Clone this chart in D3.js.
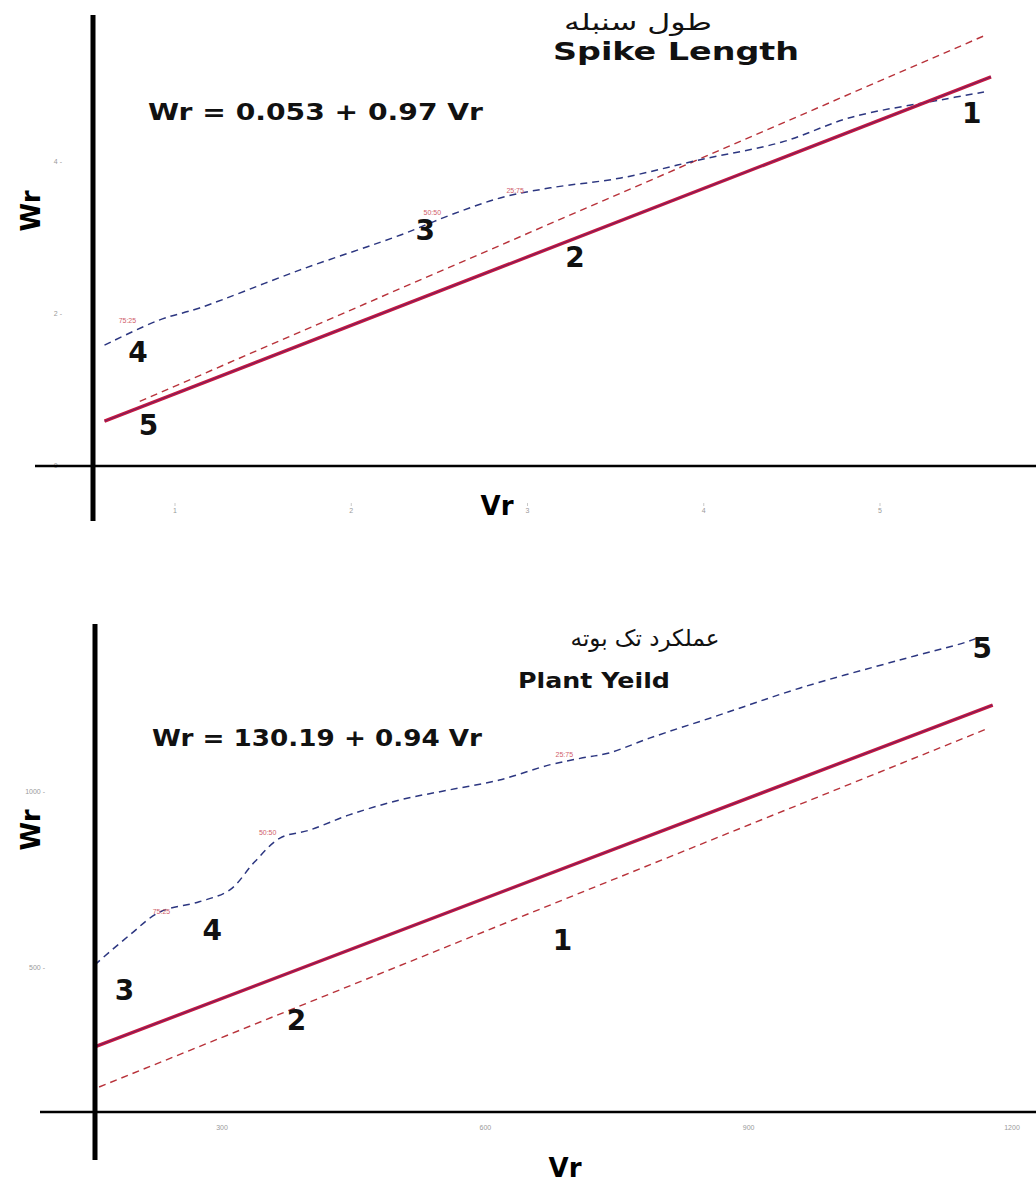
<!DOCTYPE html>
<html>
<head>
<meta charset="utf-8">
<script src="https://cdn.jsdelivr.net/npm/d3@7"></script>
<style>
  body { margin: 0; background: #fff; }
  svg { display: block; }
</style>
</head>
<body>
<script>
// ---- Spike Length (top panel) ----
const spikeXTicks = [1, 2, 3, 4, 5];
const spikeYTicks = [0, 2, 4];
const spikeRegVr = [0.60, 5.63];          // solid regression line ends
const spikeRegWr = [0.59, 5.12];
const spikeUnitVr = [0.80, 5.60];         // red dashed line
const spikeUnitWr = [0.85, 5.67];
const spikeParVr = [0.60, 0.91, 1.14, 1.71, 2.28, 2.56, 2.85, 3.13, 3.53, 3.98, 4.44, 4.84, 5.35, 5.59];
const spikeParWr = [1.59, 1.92, 2.08, 2.58, 3.04, 3.30, 3.53, 3.66, 3.79, 4.03, 4.26, 4.59, 4.82, 4.92];
const spikeParents = ["1", "2", "3", "4", "5"];
const spikeParentVr = [5.52, 3.27, 2.42, 0.79, 0.85];
const spikeParentWr = [4.64, 2.75, 3.11, 1.50, 0.54];
const spikeRatios = ["75:25", "50:50", "25:75"];
const spikeRatioVr = [0.73, 2.46, 2.93];
const spikeRatioWr = [1.92, 3.34, 3.63];

// ---- Plant Yield (bottom panel) ----
const yieldXTicks = [300, 600, 900, 1200];
const yieldYTicks = [500, 1000];
const yieldRegVr = [155, 1178];
const yieldRegWr = [276, 1247];
const yieldUnitVr = [160, 1174];
const yieldUnitWr = [162, 1182];
const yieldParVr = [155, 195, 229, 274, 309, 337, 366, 400, 445, 502, 559, 616, 673, 711, 741, 787, 867, 958, 1072, 1148, 1163];
const yieldParWr = [509, 594, 659, 688, 722, 801, 869, 892, 935, 977, 1006, 1034, 1077, 1097, 1111, 1153, 1219, 1295, 1375, 1426, 1440];
const yieldParents = ["1", "2", "3", "4", "5"];
const yieldParentVr = [688, 385, 189, 289, 1166];
const yieldParentWr = [580, 352, 438, 608, 1409];
const yieldRatios = ["75:25", "50:50", "25:75"];
const yieldRatioVr = [231, 352, 690];
const yieldRatioWr = [659, 886, 1105];

const svg = d3.select("body").append("svg")
  .attr("width", 1036)
  .attr("height", 1182);

const boldFont = "'DejaVu Sans', Verdana, sans-serif";

function drawPanel(p) {
  const g = svg.append("g");
  const x = p.x, y = p.y;

  // faint tick labels
  g.selectAll(".xt").data(p.xTicks).enter().append("text")
    .attr("x", d => x(d)).attr("y", p.xTickY)
    .attr("text-anchor", "middle")
    .attr("font-family", "'Liberation Sans', Arial, sans-serif")
    .attr("font-size", 7).attr("fill", "#9a9a9a")
    .text(d => d);
  if (p.xTickMarks) {
    g.selectAll(".xm").data(p.xTicks).enter().append("line")
      .attr("x1", d => x(d)).attr("x2", d => x(d))
      .attr("y1", p.xTickY - 10).attr("y2", p.xTickY - 7)
      .attr("stroke", "#bbb").attr("stroke-width", 0.8);
  }
  g.selectAll(".yt").data(p.yTicks).enter().append("text")
    .attr("x", p.yTickX).attr("y", d => y(d))
    .attr("dy", "0.35em")
    .attr("text-anchor", "end")
    .attr("font-family", "'Liberation Sans', Arial, sans-serif")
    .attr("font-size", 7).attr("fill", "#9a9a9a")
    .text(d => d + " -");

  // red dashed reference line
  const line = d3.line().x(d => x(d[0])).y(d => y(d[1]));
  g.append("path")
    .datum(d3.zip(p.unitVr, p.unitWr))
    .attr("d", line)
    .attr("fill", "none")
    .attr("stroke", "#b8323a")
    .attr("stroke-width", 1.4)
    .attr("stroke-dasharray", "7,5");

  // blue dashed parabola
  g.append("path")
    .datum(d3.zip(p.parVr, p.parWr))
    .attr("d", line.curve(d3.curveCatmullRom))
    .attr("fill", "none")
    .attr("stroke", "#2c3680")
    .attr("stroke-width", 1.5)
    .attr("stroke-dasharray", "7,5");
  line.curve(d3.curveLinear);

  // solid regression line (red with dark core)
  const reg = d3.zip(p.regVr, p.regWr);
  g.append("path").datum(reg).attr("d", line)
    .attr("stroke", "#c8183f").attr("stroke-width", 3.4).attr("fill", "none");
  g.append("path").datum(reg).attr("d", line)
    .attr("stroke", "#4a2370").attr("stroke-width", 1).attr("stroke-opacity", 0.7).attr("fill", "none");

  // ratio labels
  g.selectAll(".ratio").data(p.ratios).enter().append("text")
    .attr("x", (d, i) => x(p.ratioVr[i])).attr("y", (d, i) => y(p.ratioWr[i]))
    .attr("text-anchor", "middle")
    .attr("dy", "0.35em")
    .attr("font-family", "'Liberation Sans', Arial, sans-serif")
    .attr("font-size", 7).attr("fill", "#d0606a")
    .text(d => d);

  // parent numbers
  g.selectAll(".par").data(p.parents).enter().append("text")
    .attr("x", (d, i) => x(p.parentVr[i])).attr("y", (d, i) => y(p.parentWr[i]))
    .attr("text-anchor", "middle")
    .attr("dy", "0.36em")
    .attr("font-family", boldFont)
    .attr("font-weight", "bold")
    .attr("font-size", 28).attr("fill", "#111")
    .text(d => d);

  // thick overlay axes
  g.append("line")
    .attr("x1", p.axisLeftX).attr("x2", p.axisLeftX)
    .attr("y1", p.axisTop).attr("y2", p.axisBottom)
    .attr("stroke", "#000").attr("stroke-width", 5);
  g.append("line")
    .attr("x1", p.xAxisStart).attr("x2", 1036)
    .attr("y1", p.xAxisY).attr("y2", p.xAxisY)
    .attr("stroke", "#000").attr("stroke-width", 2.5);

  // titles
  const fa = g.append("text")
    .attr("x", p.faX).attr("y", p.faY)
    .attr("text-anchor", "middle")
    .attr("direction", "rtl")
    .attr("font-family", "'DejaVu Sans', sans-serif")
    .attr("font-size", 23).attr("fill", "#111")
    .text(p.faTitle);
  if (p.faLen) fa.attr("textLength", p.faLen).attr("lengthAdjust", "spacingAndGlyphs");
  g.append("text")
    .attr("x", p.enX).attr("y", p.enY)
    .attr("textLength", p.enLen).attr("lengthAdjust", "spacingAndGlyphs")
    .attr("font-family", boldFont).attr("font-weight", "bold")
    .attr("font-size", p.enSize).attr("fill", "#111")
    .text(p.enTitle);
  g.append("text")
    .attr("x", p.eqX).attr("y", p.eqY)
    .attr("textLength", p.eqLen).attr("lengthAdjust", "spacingAndGlyphs")
    .attr("font-family", boldFont).attr("font-weight", "bold")
    .attr("font-size", 23).attr("fill", "#111")
    .text(p.equation);

  // axis titles
  g.append("text")
    .attr("x", p.vrX).attr("y", p.vrY)
    .attr("text-anchor", "middle")
    .attr("font-family", boldFont).attr("font-weight", "bold")
    .attr("font-size", 26).attr("fill", "#000")
    .text("Vr");
  g.append("text")
    .attr("transform", `translate(${p.wrX},${p.wrY}) rotate(-90)`)
    .attr("text-anchor", "middle")
    .attr("font-family", boldFont).attr("font-weight", "bold")
    .attr("font-size", 26).attr("fill", "#000")
    .text("Wr");
}

// top panel
const xTop = d3.scaleLinear().domain([1, 5]).range([175, 880]);
const yTop = d3.scaleLinear().domain([0, 4]).range([466, 162]);
drawPanel({
  x: xTop, y: yTop,
  xTicks: spikeXTicks, yTicks: spikeYTicks, xTickY: 513, xTickMarks: true, yTickX: 62,
  regVr: spikeRegVr, regWr: spikeRegWr,
  unitVr: spikeUnitVr, unitWr: spikeUnitWr,
  parVr: spikeParVr, parWr: spikeParWr,
  parents: spikeParents, parentVr: spikeParentVr, parentWr: spikeParentWr,
  ratios: spikeRatios, ratioVr: spikeRatioVr, ratioWr: spikeRatioWr,
  axisLeftX: 93, axisTop: 15, axisBottom: 521, xAxisStart: 35, xAxisY: yTop(0),
  faTitle: "طول سنبله", faX: 638, faY: 30, faLen: 148,
  enTitle: "Spike Length", enX: 553, enY: 60, enLen: 246, enSize: 24,
  equation: "Wr = 0.053 + 0.97 Vr", eqX: 148, eqY: 120, eqLen: 335,
  vrX: 497, vrY: 515, wrX: 40, wrY: 211
});

// bottom panel
const xBot = d3.scaleLinear().domain([300, 1200]).range([222, 1012]);
const yBot = d3.scaleLinear().domain([500, 1000]).range([968, 792]);
drawPanel({
  x: xBot, y: yBot,
  xTicks: yieldXTicks, yTicks: yieldYTicks, xTickY: 1130, xTickMarks: false, yTickX: 45,
  regVr: yieldRegVr, regWr: yieldRegWr,
  unitVr: yieldUnitVr, unitWr: yieldUnitWr,
  parVr: yieldParVr, parWr: yieldParWr,
  parents: yieldParents, parentVr: yieldParentVr, parentWr: yieldParentWr,
  ratios: yieldRatios, ratioVr: yieldRatioVr, ratioWr: yieldRatioWr,
  axisLeftX: 95, axisTop: 624, axisBottom: 1160, xAxisStart: 40, xAxisY: 1112,
  faTitle: "عملکرد تک بوته", faX: 645, faY: 646,
  enTitle: "Plant Yeild", enX: 518, enY: 688, enLen: 152, enSize: 22,
  equation: "Wr = 130.19 + 0.94 Vr", eqX: 152, eqY: 746, eqLen: 330,
  vrX: 565, vrY: 1177, wrX: 40, wrY: 830
});
</script>
</body>
</html>
